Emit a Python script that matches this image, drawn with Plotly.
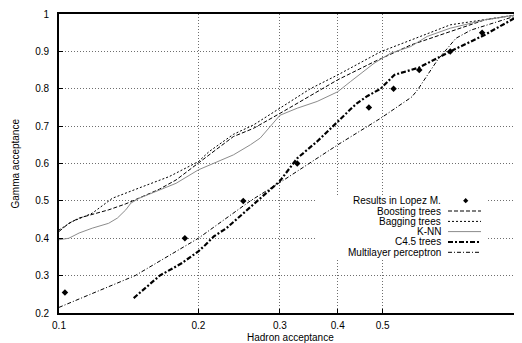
import plotly.graph_objects as go

# ---------------- data ----------------
lopez_x = [0.103, 0.187, 0.25, 0.327, 0.467, 0.528, 0.60, 0.70, 0.82]
lopez_y = [0.255, 0.40, 0.50, 0.60, 0.75, 0.80, 0.85, 0.90, 0.95]

boost_x = [0.1, 0.105, 0.1105, 0.118, 0.128, 0.1394, 0.149, 0.1646, 0.179, 0.2, 0.211,
           0.238, 0.263, 0.3, 0.361, 0.4, 0.479, 0.575, 0.70, 0.83, 1.0]
boost_y = [0.418, 0.44, 0.454, 0.463, 0.476, 0.492, 0.507, 0.531, 0.556, 0.60, 0.623,
           0.672, 0.694, 0.734, 0.792, 0.824, 0.872, 0.917, 0.953, 0.984, 1.0]

bag_x = [0.1, 0.1069, 0.118, 0.128, 0.1304, 0.1515, 0.173, 0.2, 0.211, 0.238, 0.263,
         0.3, 0.349, 0.4, 0.495, 0.575, 0.70, 1.0]
bag_y = [0.422, 0.445, 0.467, 0.498, 0.507, 0.538, 0.565, 0.605, 0.632, 0.678, 0.703,
         0.748, 0.80, 0.837, 0.899, 0.93, 0.971, 1.0]

knn_x = [0.1, 0.105, 0.1105, 0.118, 0.128, 0.1337, 0.1394, 0.143, 0.149, 0.1646, 0.179,
         0.2, 0.211, 0.238, 0.259, 0.272, 0.3, 0.327, 0.361, 0.4, 0.426, 0.479, 0.52,
         0.575, 0.624, 0.70, 0.83, 1.0]
knn_y = [0.396, 0.40, 0.414, 0.427, 0.44, 0.454, 0.476, 0.494, 0.507, 0.529, 0.547,
         0.583, 0.596, 0.623, 0.65, 0.668, 0.729, 0.748, 0.766, 0.792, 0.819, 0.868, 0.895,
         0.913, 0.94, 0.962, 0.984, 1.0]

c45_x = [0.145, 0.165, 0.184, 0.2, 0.207, 0.216, 0.23, 0.268, 0.30, 0.316, 0.327, 0.361,
         0.385, 0.4, 0.426, 0.44, 0.463, 0.495, 0.53, 0.6, 0.70, 0.83, 1.0]
c45_y = [0.24, 0.30, 0.333, 0.365, 0.382, 0.405, 0.427, 0.50, 0.553, 0.59, 0.614, 0.659,
         0.694, 0.712, 0.745, 0.761, 0.78, 0.80, 0.837, 0.857, 0.90, 0.944, 1.0]

mlp_x = [0.1, 0.146, 0.2, 0.259, 0.306, 0.4, 0.495, 0.578, 0.595, 0.657, 0.72, 0.776, 1.0]
mlp_y = [0.215, 0.30, 0.40, 0.50, 0.556, 0.65, 0.721, 0.778, 0.797, 0.877, 0.935, 0.957, 1.0]

x_ticks = [0.1, 0.2, 0.3, 0.4, 0.5]
x_ticktext = ["0.1", "0.2", "0.3", "0.4", "0.5"]
y_ticks = [0.2, 0.3, 0.4, 0.5, 0.6, 0.7, 0.8, 0.9, 1.0]
y_ticktext = ["0.2", "0.3", "0.4", "0.5", "0.6", "0.7", "0.8", "0.9", "1"]

legend_names = ["Results in Lopez M.", "Boosting trees", "Bagging trees", "K-NN",
                "C4.5 trees", "Multilayer perceptron"]
x_title = "Hadron acceptance"
y_title = "Gamma acceptance"

# ---------------- styles ----------------
FONT = "Liberation Sans, Arial, sans-serif"
styles = {
    "Boosting trees": dict(color="black", width=1, dash="4px,2px"),
    "Bagging trees": dict(color="black", width=1, dash="2px,2px"),
    "K-NN": dict(color="#8c8c8c", width=1, dash="solid"),
    "C4.5 trees": dict(color="black", width=2.2, dash="5px,2px,2px,2px"),
    "Multilayer perceptron": dict(color="black", width=1, dash="4px,2px,1px,2px"),
}

fig = go.Figure()
series = [
    ("Boosting trees", boost_x, boost_y),
    ("Bagging trees", bag_x, bag_y),
    ("K-NN", knn_x, knn_y),
    ("C4.5 trees", c45_x, c45_y),
    ("Multilayer perceptron", mlp_x, mlp_y),
]
for name, xs, ys in series:
    fig.add_trace(go.Scatter(x=xs, y=ys, mode="lines", name=name,
                             line=styles[name], showlegend=False))
fig.add_trace(go.Scatter(x=lopez_x, y=lopez_y, mode="markers", name=legend_names[0],
                         marker=dict(symbol="diamond", size=5, color="black"),
                         showlegend=False))

# ---------------- layout geometry ----------------
# the page body has an 8px margin, so the figure starts at (8, 8) in the window
OFF = 8
WIN_W, WIN_H = 522, 343
PL, PR, PT, PB = 59, 522, 14, 313          # plot area in window pixels
W, H = WIN_W - OFF, WIN_H - OFF
L, T = PL - OFF, PT - OFF
R, B = W - (PR - OFF), H - (PB - OFF)
PW, PH = W - L - R, H - T - B


def px_x(p):
    return (p - PL) / PW


def px_y(p):
    return (PB - p) / PH


shapes = []
annotations = []
# white box behind the key (hides the grid)
shapes.append(dict(type="rect", xref="paper", yref="paper",
                   x0=px_x(315), x1=px_x(487), y0=px_y(258), y1=px_y(195),
                   fillcolor="white", line=dict(width=0), layer="above"))
row_y = [200.7, 211.0, 221.4, 231.6, 242.0, 252.3]
for i, name in enumerate(legend_names):
    annotations.append(dict(xref="paper", yref="paper", x=px_x(443), y=px_y(row_y[i]),
                            text=name, showarrow=False, xanchor="right", yanchor="middle",
                            font=dict(family=FONT, size=10, color="black")))
    if i == 0:
        cx, cy = 465.7, row_y[i]
        d = 2.6
        path = (f"M {px_x(cx - d)} {px_y(cy)} L {px_x(cx)} {px_y(cy - d)} "
                f"L {px_x(cx + d)} {px_y(cy)} L {px_x(cx)} {px_y(cy + d)} Z")
        shapes.append(dict(type="path", xref="paper", yref="paper", path=path,
                           fillcolor="black", line=dict(width=0), layer="above"))
    else:
        st = styles[name]
        shapes.append(dict(type="line", xref="paper", yref="paper",
                           x0=px_x(448), x1=px_x(481), y0=px_y(row_y[i]), y1=px_y(row_y[i]),
                           line=dict(color=st["color"], width=st["width"], dash=st["dash"]),
                           layer="above"))

# axis titles
annotations.append(dict(xref="paper", yref="paper", x=px_x(290), y=px_y(337.5),
                        text=x_title, showarrow=False, xanchor="center", yanchor="middle",
                        font=dict(family=FONT, size=10, color="black")))
annotations.append(dict(xref="paper", yref="paper", x=px_x(15), y=px_y(163.5),
                        text=y_title, showarrow=False, xanchor="center", yanchor="middle",
                        textangle=-90,
                        font=dict(family=FONT, size=10, color="black")))

fig.update_layout(
    width=W, height=H,
    margin=dict(l=L, r=R, t=T, b=B, pad=0, autoexpand=False),
    paper_bgcolor="white", plot_bgcolor="white",
    font=dict(family=FONT, size=10, color="black"),
    showlegend=False,
    shapes=shapes,
    annotations=annotations,
)
fig.update_xaxes(
    type="log", range=[-1, 0],
    tickvals=x_ticks, ticktext=x_ticktext,
    showgrid=True, gridcolor="#6e6e6e", griddash="1px,2px", gridwidth=1,
    showline=True, linecolor="black", linewidth=1.8, mirror=True,
    ticks="inside", ticklen=4, tickcolor="black",
    zeroline=False, automargin=False,
    ticklabelstandoff=2,
    tickfont=dict(family=FONT, size=10),
)
fig.update_yaxes(
    range=[0.2, 1.0],
    tickvals=y_ticks, ticktext=y_ticktext,
    showgrid=True, gridcolor="#6e6e6e", griddash="1px,2px", gridwidth=1,
    showline=True, linecolor="black", linewidth=1.8, mirror="ticks",
    ticks="inside", ticklen=4, tickcolor="black",
    zeroline=False, automargin=False,
    ticklabelstandoff=6,
    tickfont=dict(family=FONT, size=10),
)

fig.write_html("out.html")
